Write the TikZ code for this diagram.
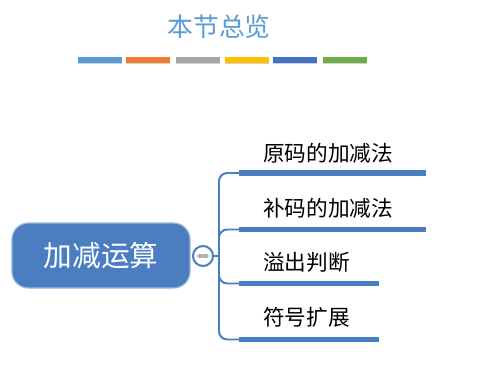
\documentclass[tikz,border=0pt]{standalone}
\usepackage{fontspec}
\newfontfamily\cjk{Noto Sans CJK SC}
\definecolor{mapblue}{RGB}{74,126,193}
\definecolor{barA}{RGB}{91,155,213}
\definecolor{barB}{RGB}{237,125,49}
\definecolor{barC}{RGB}{165,165,165}
\definecolor{barD}{RGB}{255,192,0}
\definecolor{barE}{RGB}{68,114,196}
\definecolor{barF}{RGB}{112,173,71}
\tikzset{
  rootbox/.style={fill=mapblue,draw=mapblue!55,line width=1pt,rounded corners=14pt,
    minimum width=5.34cm,minimum height=1.95cm,text=white,font=\cjk\fontsize{24.5}{26}\selectfont},
  topic/.style={anchor=west,inner sep=0pt,font=\cjk\fontsize{18.5}{20}\selectfont},
  branch/.style={draw=mapblue,line width=1.7pt,rounded corners=7pt},
  underbar/.style={draw=mapblue,line width=5pt},
  colorbar/.style={line width=4.3pt}
}
\begin{document}
\begin{tikzpicture}[x=0.03cm,y=-0.03cm]
\useasboundingbox[fill=white] (0,0) rectangle (480,369);
% title
\node[font=\cjk\fontsize{22}{24}\selectfont,text=barA] (title) at (219,27) {本节总览};
% colour bars
\foreach \c/\xa in {barA/78,barB/126,barC/176,barD/225,barE/273,barF/323}{
  \draw[colorbar,black!18] (\xa,61.5) -- ++(44,0);
  \draw[colorbar,\c] (\xa,60) -- ++(44,0);
}
% root
\node[rootbox] (root) at (101,255.5) {加减运算};
\node[circle,draw=mapblue,fill=white,line width=1.7pt,minimum size=0.6cm,inner sep=0pt] (btn) at (203,256) {};
\draw[line width=2.6pt,black!30,line cap=round] ([xshift=-3.5pt]btn.center) -- ([xshift=3.5pt]btn.center);
% branches
\coordinate (fork) at (219,256);
\draw[branch] (btn.east) -- (fork);
\foreach \k/\yy/\xe in {1/173/426,2/229.5/426,3/283.5/379,4/339.5/379}{
  \coordinate (b\k) at (239,\yy);
  \coordinate (e\k) at (\xe,\yy);
  \draw[branch] (fork) |- (b\k);
  \draw[underbar] (b\k) -- (e\k);
}
% topics
\node[topic] (t1) at (263,153) {原码的加减法};
\node[topic] (t2) at (263,208) {补码的加减法};
\node[topic] (t3) at (263,262) {溢出判断};
\node[topic] (t4) at (263,317) {符号扩展};
\end{tikzpicture}
\end{document}
